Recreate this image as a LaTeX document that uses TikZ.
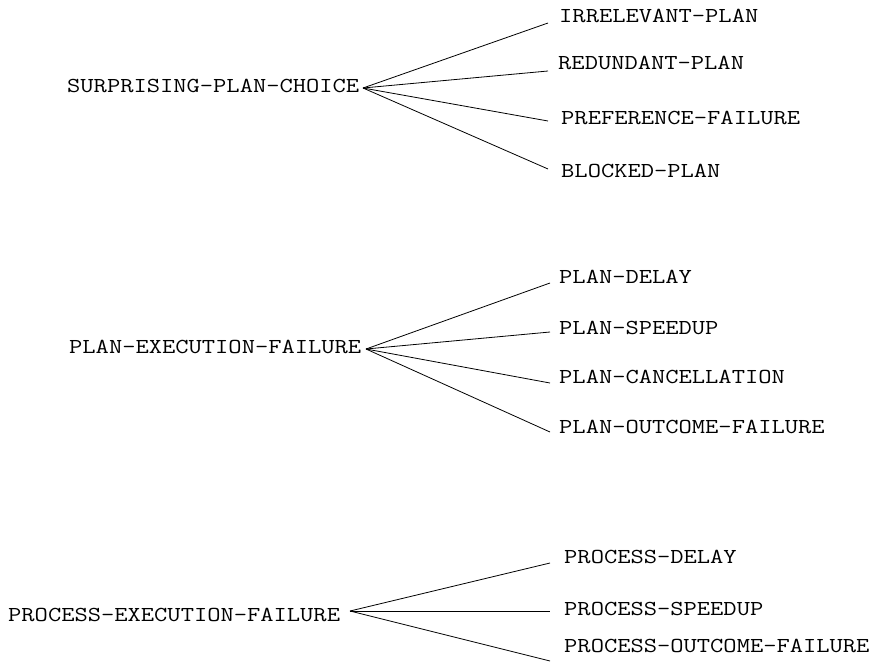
\documentclass[tikz,border=0pt]{standalone}
\usepackage{fontspec}
\setmonofont{Latin Modern Mono}[FakeStretch=1.21]
\begin{document}
\begin{tikzpicture}[x=1pt,y=-1pt,
  lbl/.style={anchor=base west,inner sep=0pt,font=\ttfamily\fontsize{21.3}{26}\selectfont},
  edge/.style={line width=0.8pt,black}]
\useasboundingbox (0,0) rectangle (872,664);
% group 1
\node[lbl] (r1) at (67,92) {SURPRISING-PLAN-CHOICE};
\coordinate (a1) at (363,88);
\node[lbl] (c11) at (559,22) {IRRELEVANT-PLAN};
\node[lbl] (c12) at (558,69) {REDUNDANT-PLAN};
\node[lbl] (c13) at (561,124) {PREFERENCE-FAILURE};
\node[lbl] (c14) at (561,177) {BLOCKED-PLAN};
\coordinate (e11) at (548,23);
\coordinate (e12) at (548,71);
\coordinate (e13) at (548,121);
\coordinate (e14) at (548,169);
\foreach \i in {1,...,4} \draw[edge] (a1) -- (e1\i);
% group 2
\node[lbl] (r2) at (69,353) {PLAN-EXECUTION-FAILURE};
\coordinate (a2) at (366,349);
\node[lbl] (c21) at (559,283) {PLAN-DELAY};
\node[lbl] (c22) at (559,334) {PLAN-SPEEDUP};
\node[lbl] (c23) at (559,383) {PLAN-CANCELLATION};
\node[lbl] (c24) at (559,433) {PLAN-OUTCOME-FAILURE};
\coordinate (e21) at (550,283);
\coordinate (e22) at (550,332);
\coordinate (e23) at (550,383);
\coordinate (e24) at (550,432);
\foreach \i in {1,...,4} \draw[edge] (a2) -- (e2\i);
% group 3
\node[lbl] (r3) at (8,621) {PROCESS-EXECUTION-FAILURE};
\coordinate (a3) at (350,611);
\node[lbl] (c31) at (564,563) {PROCESS-DELAY};
\node[lbl] (c32) at (564,615) {PROCESS-SPEEDUP};
\node[lbl] (c33) at (564,652) {PROCESS-OUTCOME-FAILURE};
\coordinate (e31) at (550,563);
\coordinate (e32) at (550,611);
\coordinate (e33) at (550,661);
\foreach \i in {1,...,3} \draw[edge] (a3) -- (e3\i);
\end{tikzpicture}
\end{document}
